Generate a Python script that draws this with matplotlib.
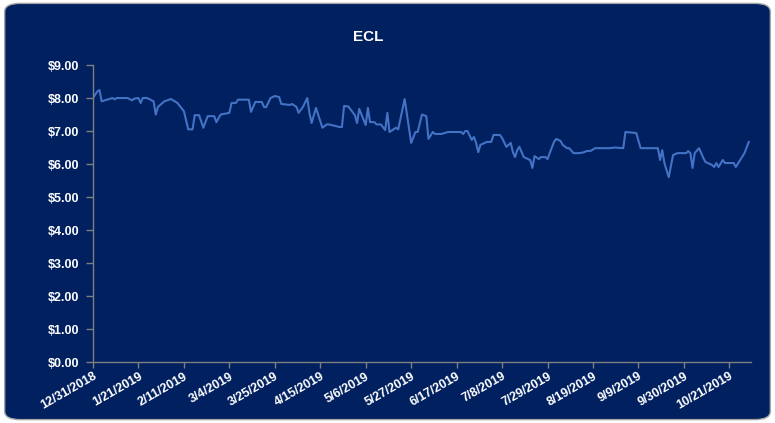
#!/usr/bin/env python3

import matplotlib
matplotlib.use("Agg")

import matplotlib.dates as mdates
import matplotlib.pyplot as plt
import pandas as pd
from matplotlib.patches import FancyBboxPatch
from matplotlib.ticker import FuncFormatter


TITLE = "ECL"

DATES = [
    "2018-12-31", "2019-01-02", "2019-01-03", "2019-01-04", "2019-01-09",
    "2019-01-10", "2019-01-11", "2019-01-16", "2019-01-18", "2019-01-19",
    "2019-01-21", "2019-01-22", "2019-01-23", "2019-01-25", "2019-01-28",
    "2019-01-29", "2019-01-30", "2019-02-02", "2019-02-05", "2019-02-08",
    "2019-02-11", "2019-02-13", "2019-02-15", "2019-02-16", "2019-02-18",
    "2019-02-20", "2019-02-22", "2019-02-25", "2019-02-26", "2019-02-28",
    "2019-03-04", "2019-03-05", "2019-03-07", "2019-03-08", "2019-03-13",
    "2019-03-14", "2019-03-16", "2019-03-19", "2019-03-20", "2019-03-21",
    "2019-03-23", "2019-03-25", "2019-03-27", "2019-03-28", "2019-04-01",
    "2019-04-02", "2019-04-04", "2019-04-05", "2019-04-07", "2019-04-09",
    "2019-04-10", "2019-04-11", "2019-04-13", "2019-04-16", "2019-04-18",
    "2019-04-19", "2019-04-24", "2019-04-25", "2019-04-26", "2019-04-28",
    "2019-05-01", "2019-05-02", "2019-05-03", "2019-05-06", "2019-05-07",
    "2019-05-08", "2019-05-10", "2019-05-11", "2019-05-13", "2019-05-15",
    "2019-05-16", "2019-05-17", "2019-05-20", "2019-05-21", "2019-05-24",
    "2019-05-27", "2019-05-29", "2019-05-30", "2019-06-01", "2019-06-03",
    "2019-06-04", "2019-06-06", "2019-06-07", "2019-06-10", "2019-06-13",
    "2019-06-19", "2019-06-20", "2019-06-21", "2019-06-22", "2019-06-24",
    "2019-06-25", "2019-06-26", "2019-06-27", "2019-06-28", "2019-07-01",
    "2019-07-03", "2019-07-04", "2019-07-07", "2019-07-08", "2019-07-10",
    "2019-07-12", "2019-07-13", "2019-07-14", "2019-07-15", "2019-07-16",
    "2019-07-18", "2019-07-19", "2019-07-21", "2019-07-22", "2019-07-23",
    "2019-07-25", "2019-07-26", "2019-07-28", "2019-07-29", "2019-07-30",
    "2019-08-01", "2019-08-02", "2019-08-04", "2019-08-05", "2019-08-07",
    "2019-08-08", "2019-08-10", "2019-08-13", "2019-08-15", "2019-08-16",
    "2019-08-18", "2019-08-20", "2019-08-22", "2019-08-27", "2019-08-29",
    "2019-09-02", "2019-09-03", "2019-09-08", "2019-09-10", "2019-09-17",
    "2019-09-18", "2019-09-19", "2019-09-20", "2019-09-21", "2019-09-23",
    "2019-09-25", "2019-09-27", "2019-10-01", "2019-10-02", "2019-10-03",
    "2019-10-04", "2019-10-05", "2019-10-07", "2019-10-09", "2019-10-10",
    "2019-10-13", "2019-10-14", "2019-10-15", "2019-10-16", "2019-10-18",
    "2019-10-19", "2019-10-23", "2019-10-24", "2019-10-28", "2019-10-30",
]

PRICES = [
    8.00, 8.20, 8.24, 7.90, 8.00,
    7.96, 8.00, 8.00, 7.93, 7.98,
    8.00, 7.85, 8.00, 8.00, 7.90,
    7.50, 7.73, 7.90, 7.97, 7.85,
    7.60, 7.05, 7.05, 7.48, 7.48,
    7.10, 7.45, 7.45, 7.27, 7.50,
    7.55, 7.85, 7.85, 7.95, 7.95,
    7.58, 7.88, 7.88, 7.73, 7.72,
    8.00, 8.06, 8.03, 7.82, 7.79,
    7.82, 7.73, 7.55, 7.73, 8.00,
    7.55, 7.24, 7.70, 7.10, 7.20,
    7.20, 7.12, 7.12, 7.76, 7.74,
    7.48, 7.24, 7.67, 7.18, 7.70,
    7.27, 7.27, 7.20, 7.20, 7.03,
    7.55, 6.97, 7.10, 7.05, 7.97,
    6.64, 6.97, 6.97, 7.50, 7.45,
    6.76, 6.97, 6.91, 6.91, 6.97,
    6.97, 6.91, 7.00, 7.00, 6.73,
    6.82, 6.64, 6.36, 6.58, 6.67,
    6.67, 6.88, 6.88, 6.79, 6.52,
    6.64, 6.36, 6.21, 6.42, 6.52,
    6.21, 6.18, 6.12, 5.88, 6.24,
    6.15, 6.21, 6.21, 6.15, 6.33,
    6.67, 6.76, 6.70, 6.58, 6.48,
    6.48, 6.33, 6.33, 6.36, 6.39,
    6.40, 6.48, 6.48, 6.48, 6.50,
    6.48, 6.97, 6.94, 6.48, 6.48,
    6.48, 6.12, 6.42, 6.03, 5.60,
    6.27, 6.33, 6.33, 6.39, 6.33,
    5.88, 6.33, 6.48, 6.18, 6.06,
    5.97, 5.91, 6.03, 5.91, 6.12,
    6.03, 6.03, 5.91, 6.33, 6.67,
]

X_START = "2018-12-31"
X_END = "2019-10-31"
Y_TICKS = [0, 1, 2, 3, 4, 5, 6, 7, 8, 9]

NAVY = "#002060"
LINE_BLUE = "#4472C4"
AXIS_GREY = "#7F7F7F"


def date_label(value, _pos):
    day = mdates.num2date(value)
    return f"{day.month}/{day.day}/{day.year}"


def main() -> None:
    plt.rcParams["font.family"] = ["Liberation Sans", "DejaVu Sans"]

    dates = pd.to_datetime(DATES)

    figure = plt.figure(figsize=(7.75, 4.23), dpi=100, facecolor="white")

    # Rounded dark panel behind everything.
    panel = FancyBboxPatch(
        (0.006, 0.008),
        0.988,
        0.984,
        boxstyle="round,pad=0,rounding_size=0.02",
        transform=figure.transFigure,
        facecolor=NAVY,
        edgecolor="#A6A6A6",
        linewidth=1.0,
        zorder=-10,
    )
    figure.patches.append(panel)

    axis = figure.add_axes([0.12, 0.1442, 0.849, 0.7021])
    axis.set_facecolor("none")
    axis.set_zorder(5)

    axis.plot(dates, PRICES, color=LINE_BLUE, linewidth=1.5)

    axis.set_xlim(pd.Timestamp(X_START), pd.Timestamp(X_END))
    axis.set_ylim(Y_TICKS[0], Y_TICKS[-1])

    axis.set_yticks(Y_TICKS)
    axis.yaxis.set_major_formatter(FuncFormatter(lambda v, _p: f"${v:.2f}"))

    tick_dates = pd.date_range(X_START, "2019-10-21", freq="21D")
    axis.set_xticks(tick_dates)
    axis.xaxis.set_major_formatter(FuncFormatter(date_label))

    for spine in ("top", "right"):
        axis.spines[spine].set_visible(False)
    for spine in ("left", "bottom"):
        axis.spines[spine].set_color(AXIS_GREY)
        axis.spines[spine].set_linewidth(1.0)

    axis.tick_params(
        axis="both",
        colors=AXIS_GREY,
        length=4,
        width=1.0,
        labelcolor="white",
        labelsize=9,
    )
    axis.tick_params(axis="y", pad=5, length=5)
    axis.tick_params(axis="x", pad=2)

    for label in axis.get_yticklabels():
        label.set_fontweight("bold")
    for label in axis.get_xticklabels():
        label.set_fontweight("bold")
        label.set_rotation(30)
        label.set_horizontalalignment("right")
        label.set_rotation_mode("anchor")

    figure.text(
        0.475,
        0.912,
        TITLE,
        color="white",
        fontsize=11,
        fontweight="bold",
        ha="center",
        va="center",
    )

    figure.savefig("out.png", dpi=100, facecolor="white")
    plt.close(figure)


if __name__ == "__main__":
    main()
